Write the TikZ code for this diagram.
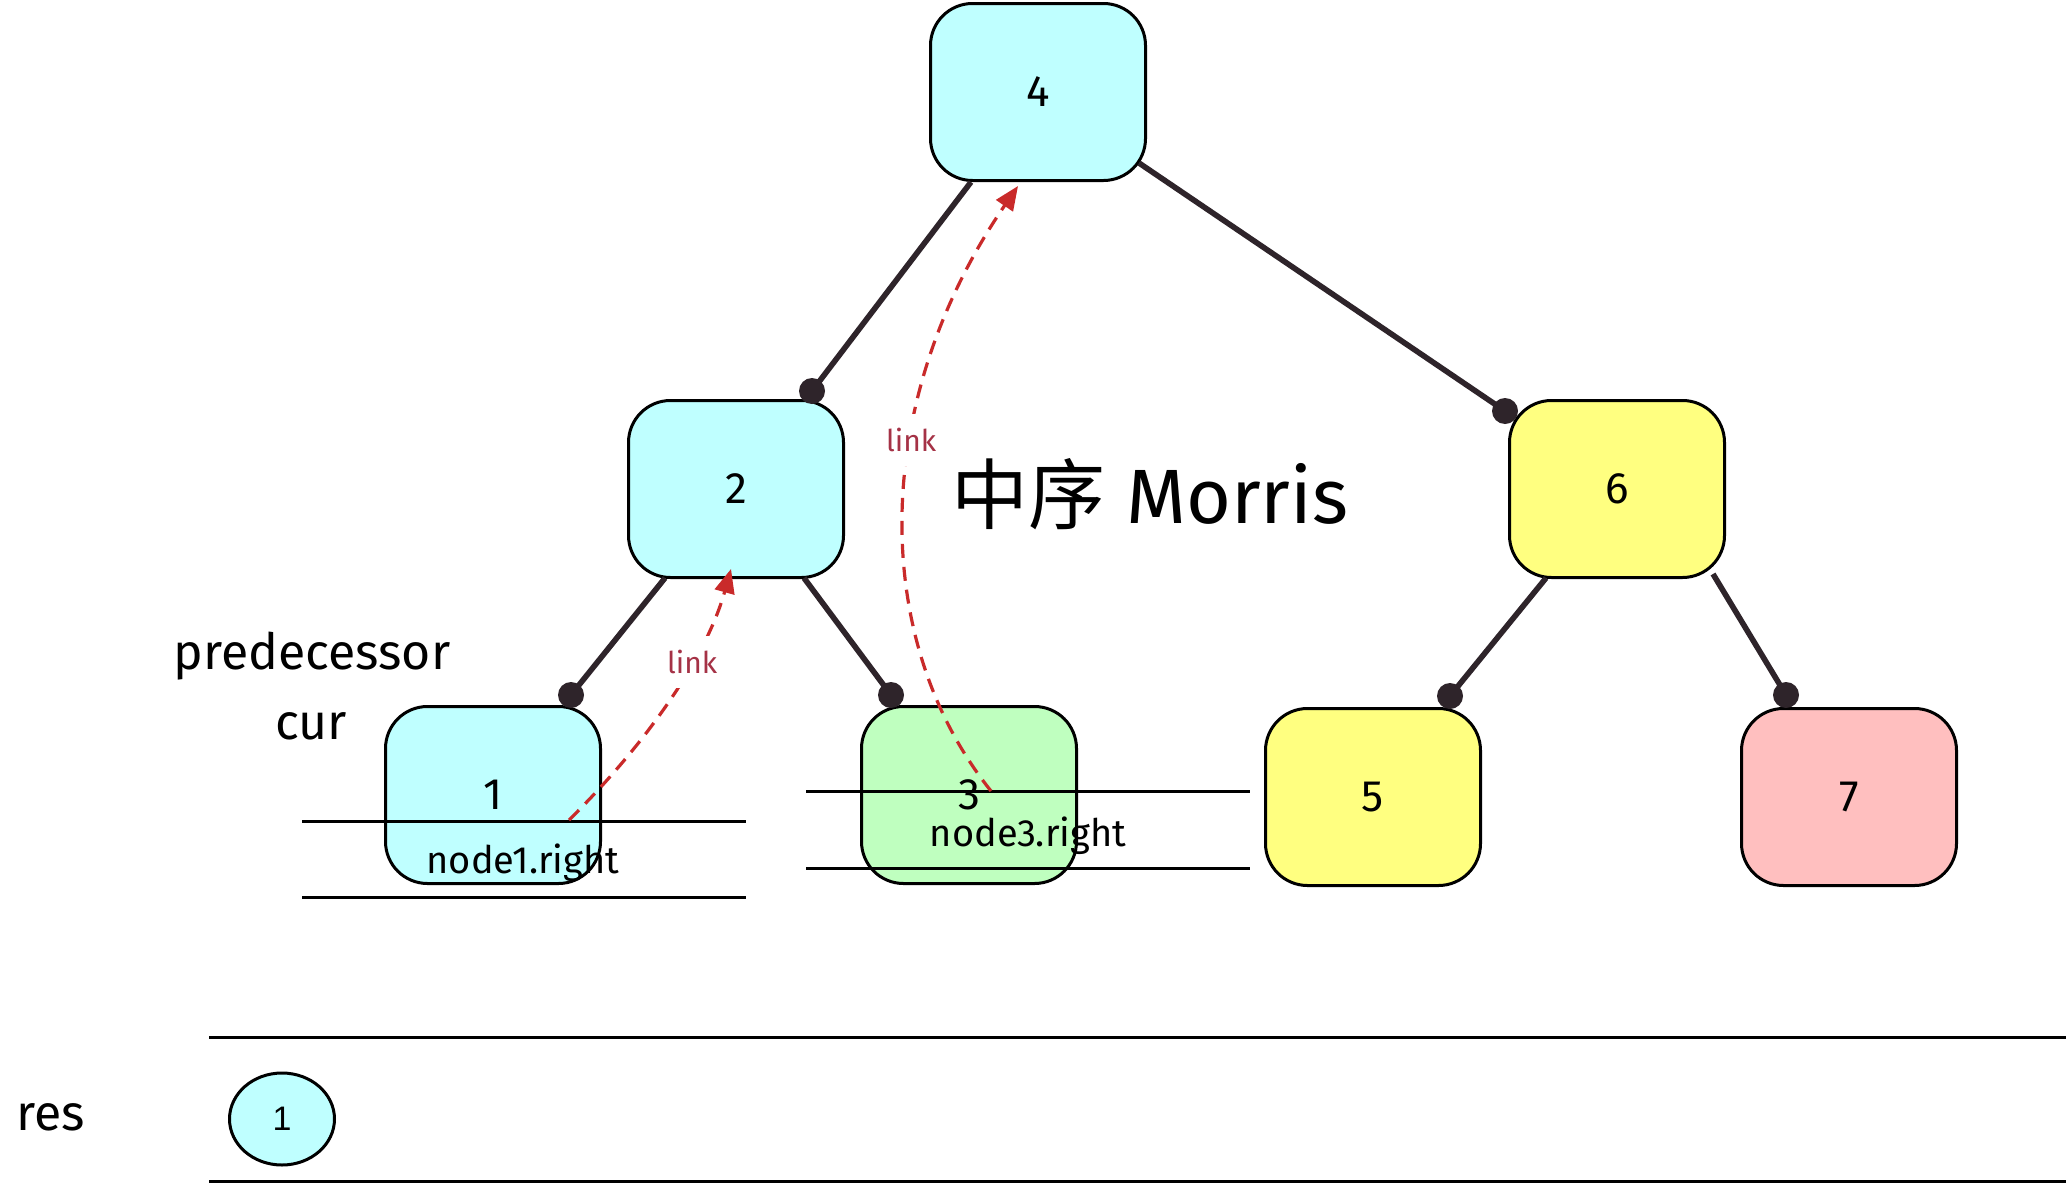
\documentclass[tikz,border=0pt]{standalone}
\usepackage{fontspec}
\setmainfont{Fira Sans}
\newfontfamily\cjk{Noto Sans CJK SC}
\newfontfamily\helv{Liberation Sans}
\usetikzlibrary{arrows.meta,calc,shapes.geometric}
\definecolor{cyanfill}{RGB}{191,255,255}
\definecolor{yellowfill}{RGB}{255,255,128}
\definecolor{greenfill}{RGB}{191,255,191}
\definecolor{pinkfill}{RGB}{255,191,191}
\definecolor{edgecol}{RGB}{46,36,42}
\definecolor{linkred}{RGB}{201,42,42}
\definecolor{linktext}{RGB}{165,50,70}
\tikzset{
  treebox/.style={draw=black, line width=1.5pt, rounded corners=21pt,
    minimum width=107.5pt, minimum height=88.5pt, inner sep=0pt,
    font=\fontsize{22}{26}\selectfont},
  treeedge/.style={draw=edgecol, line width=2.8pt},
  dotmark/.style={fill=edgecol},
  guide/.style={draw=black, line width=1.5pt},
  linkarrow/.style={draw=linkred, line width=1.6pt, dash pattern=on 7pt off 4.5pt,
    -{Triangle[length=12pt,width=10pt,fill=linkred]}},
  linklabel/.style={fill=white, text=linktext, inner xsep=2pt, inner ysep=7pt,
    font=\fontsize{15}{18}\selectfont, solid},
  handtext/.style={font=\fontsize{25}{30}\selectfont},
  labeltext/.style={font=\fontsize{19}{23}\selectfont}
}
\begin{document}
\begin{tikzpicture}[x=0.5pt,y=-0.5pt]
\useasboundingbox[fill=white] (0,0) rectangle (2066,1183);

% tree nodes
\node[treebox, fill=cyanfill]   (n4) at (1038,92)  {4};
\node[treebox, fill=cyanfill]   (n2) at (736,489)  {2};
\node[treebox, fill=yellowfill] (n6) at (1617,489) {6};
\node[treebox, fill=cyanfill]   (n1) at (493,795)  {1};
\node[treebox, fill=greenfill]  (n3) at (969,795)  {3};
\node[treebox, fill=yellowfill] (n5) at (1373,797) {5};
\node[treebox, fill=pinkfill]   (n7) at (1849,797) {7};

% tree edges
\coordinate (e42a) at ($(n4.south west)+(42,0)$);
\coordinate (e42b) at ($(n2.north east)+(-33,-8)$);
\coordinate (e46a) at ($(n4.south east)+(-8,-19)$);
\coordinate (e46b) at ($(n6.north west)+(-3,12)$);
\coordinate (e21a) at ($(n2.south west)+(38,-1)$);
\coordinate (e21b) at ($(n1.north east)+(-31,-10)$);
\coordinate (e23a) at ($(n2.south east)+(-41,-1)$);
\coordinate (e23b) at ($(n3.north west)+(31,-10)$);
\coordinate (e65a) at ($(n6.south west)+(38,-1)$);
\coordinate (e65b) at ($(n5.north east)+(-32,-11)$);
\coordinate (e67a) at ($(n6.south east)+(-13,-5)$);
\coordinate (e67b) at ($(n7.north west)+(46,-12)$);
\foreach \a/\b in {e42a/e42b,e46a/e46b,e21a/e21b,e23a/e23b,e65a/e65b,e67a/e67b}{
  \draw[treeedge] (\a) -- (\b);
  \fill[dotmark] (\b) circle (6.5pt);
}

% guide lines
\coordinate (g1l) at (302,821);  \coordinate (g1r) at (746,821);
\coordinate (g2l) at (302,897);  \coordinate (g2r) at (746,897);
\coordinate (g3l) at (806,791);  \coordinate (g3r) at (1250,791);
\coordinate (g4l) at (806,868);  \coordinate (g4r) at (1250,868);
\coordinate (g5l) at (209,1037); \coordinate (g5r) at (2066,1037);
\coordinate (g6l) at (209,1181); \coordinate (g6r) at (2066,1181);
\foreach \a/\b in {g1l/g1r,g2l/g2r,g3l/g3r,g4l/g4r,g5l/g5r,g6l/g6r}{
  \draw[guide] (\a) -- (\b);
}

% texts
\node[labeltext] (t1) at (523,863) {node1.right};
\node[labeltext] (t3) at (1028,836) {node3.right};
\node[handtext] (pred) at (312,656) {predecessor};
\node[handtext] (cur) at (311,726) {cur};
\node[handtext] (res) at (51,1117) {res};
\node[font=\fontsize{38.5}{46}\selectfont] (title) at (1150,494) {{\cjk 中序} Morris};

% link arrows
\coordinate (a1s) at ($(n1.center)+(76,25)$);
\coordinate (a1e) at ($(n2.south)+(-5,-10)$);
\draw[linkarrow] (a1s) .. controls +(71,-70) and +(-26,93) .. node[linklabel, pos=0.66] (l1) {link} (a1e);
\coordinate (a2s) at ($(n3.center)+(22,-4)$);
\coordinate (a2e) at ($(n4.south)+(-20,4)$);
\draw[linkarrow] (a2s) .. controls +(-121,-151) and +(-148,216) .. node[linklabel, pos=0.613] (l2) {link} (a2e);

% result
\node[draw=black, line width=1.5pt, fill=cyanfill, ellipse, minimum width=52.5pt, minimum height=46pt,
  inner sep=0pt, font=\helv\fontsize{17}{20}\selectfont] (r1) at (282,1119) {1};
\end{tikzpicture}
\end{document}
